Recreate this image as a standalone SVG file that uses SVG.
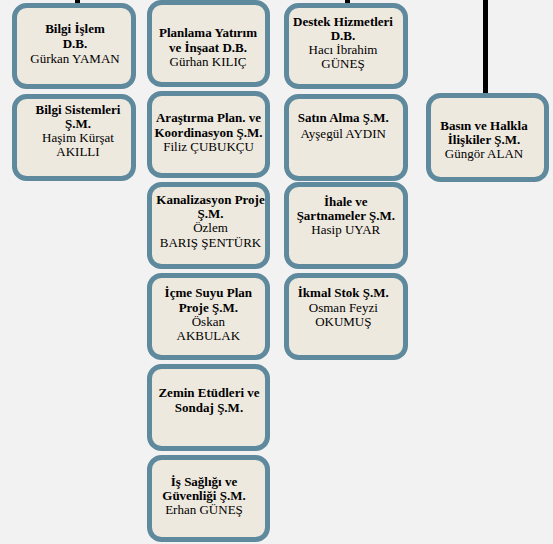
<svg xmlns="http://www.w3.org/2000/svg" width="553" height="544" viewBox="0 0 553 544">
<style>
.box{fill:#eee9df;stroke:#5f8a9d;stroke-width:5}
.conn{stroke:#000;stroke-width:5;fill:none}
.txt text{font-size:13px;fill:#000;text-anchor:middle}
.b{font-weight:bold}
</style>
<rect width="553" height="544" fill="#f2f2f2"/>
<g id="connectors">
<line class="conn" x1="77.5" y1="0" x2="77.5" y2="6"/>
<line class="conn" x1="347.5" y1="0" x2="347.5" y2="6"/>
<line class="conn" x1="485.5" y1="0" x2="485.5" y2="96"/>
</g>
<g class="txt" font-family="'Liberation Serif', 'Times New Roman', 'DejaVu Serif', serif">
<g id="n-bilgi-islem">
<rect class="box" x="14.5" y="5.5" width="119" height="81" rx="12"/>
<text x="75" y="33.3" class="b">Bilgi İşlem</text>
<text x="75" y="47.7" class="b">D.B.</text>
<text x="75" y="62.7">Gürkan YAMAN</text>
</g>
<g id="n-bilgi-sistemleri">
<rect class="box" x="14.5" y="96.5" width="119" height="82" rx="12"/>
<text x="78" y="114" class="b">Bilgi Sistemleri</text>
<text x="78" y="128" class="b">Ş.M.</text>
<text x="78" y="142">Haşim Kürşat</text>
<text x="78" y="156">AKILLI</text>
</g>
<g id="n-planlama">
<rect class="box" x="149.5" y="2.5" width="118" height="82" rx="12"/>
<text x="208" y="37.3" class="b">Planlama Yatırım</text>
<text x="208" y="51.7" class="b">ve İnşaat D.B.</text>
<text x="208" y="65.7">Gürhan KILIÇ</text>
</g>
<g id="n-arastirma">
<rect class="box" x="149.5" y="93.5" width="118" height="82" rx="12"/>
<text x="208.5" y="122.3" class="b">Araştırma Plan. ve</text>
<text x="208.5" y="136.7" class="b">Koordinasyon Ş.M.</text>
<text x="208.5" y="150.5">Filiz ÇUBUKÇU</text>
</g>
<g id="n-kanalizasyon">
<rect class="box" x="149.5" y="184.5" width="118" height="82" rx="12"/>
<text x="210.5" y="204.3" class="b">Kanalizasyon Proje</text>
<text x="210.5" y="218.3" class="b">Ş.M.</text>
<text x="210.5" y="232.3">Özlem</text>
<text x="210.5" y="246.7">BARIŞ ŞENTÜRK</text>
</g>
<g id="n-icme-suyu">
<rect class="box" x="149.5" y="275.5" width="118" height="82" rx="12"/>
<text x="208.3" y="297.3" class="b">İçme Suyu Plan</text>
<text x="208.3" y="311.7" class="b">Proje Ş.M.</text>
<text x="208.3" y="325.7">Öskan</text>
<text x="208.3" y="340">AKBULAK</text>
</g>
<g id="n-zemin">
<rect class="box" x="149.5" y="366.5" width="118" height="82" rx="12"/>
<text x="209" y="397.3" class="b">Zemin Etüdleri ve</text>
<text x="209" y="411.7" class="b">Sondaj Ş.M.</text>
</g>
<g id="n-is-sagligi">
<rect class="box" x="149.5" y="457.5" width="118" height="82" rx="12"/>
<text x="204" y="485.7" class="b">İş Sağlığı ve</text>
<text x="204" y="500" class="b">Güvenliği Ş.M.</text>
<text x="204" y="514.2">Erhan GÜNEŞ</text>
</g>
<g id="n-destek">
<rect class="box" x="286.5" y="5.5" width="119" height="81" rx="12"/>
<text x="343" y="26" class="b">Destek Hizmetleri</text>
<text x="343" y="40" class="b">D.B.</text>
<text x="343" y="54">Hacı İbrahim</text>
<text x="343" y="67.5">GÜNEŞ</text>
</g>
<g id="n-satin-alma">
<rect class="box" x="286.5" y="96.5" width="119" height="82" rx="12"/>
<text x="343.3" y="122.3" class="b">Satın Alma Ş.M.</text>
<text x="343.3" y="138.3">Ayşegül AYDIN</text>
</g>
<g id="n-ihale">
<rect class="box" x="286.5" y="184.5" width="119" height="82" rx="12"/>
<text x="345.8" y="205.7" class="b">İhale ve</text>
<text x="345.8" y="220" class="b">Şartnameler Ş.M.</text>
<text x="345.8" y="234">Hasip UYAR</text>
</g>
<g id="n-ikmal">
<rect class="box" x="286.5" y="275.5" width="119" height="82" rx="12"/>
<text x="343.3" y="297.3" class="b">İkmal Stok Ş.M.</text>
<text x="343.3" y="311.7">Osman Feyzi</text>
<text x="343.3" y="325.5">OKUMUŞ</text>
</g>
<g id="n-basin">
<rect class="box" x="428.5" y="95.5" width="118" height="84" rx="12"/>
<text x="484" y="130" class="b">Basın ve Halkla</text>
<text x="484" y="144" class="b">İlişkiler Ş.M.</text>
<text x="484" y="158.2">Güngör ALAN</text>
</g>
</g>
</svg>
